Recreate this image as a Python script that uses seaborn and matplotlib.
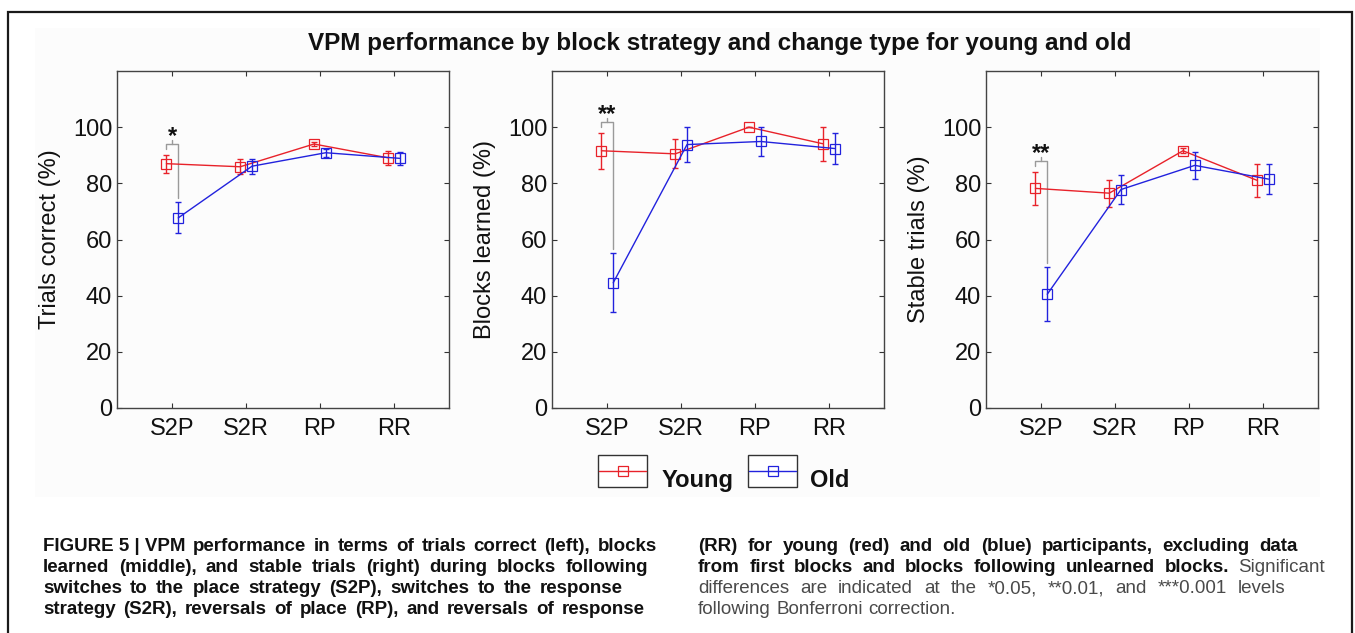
import pandas as pd
import seaborn as sns
import matplotlib.pyplot as plt
from matplotlib.patches import Rectangle
from matplotlib.lines import Line2D

# data (means and error bar half-widths, in %)
categories = ['S2P', 'S2R', 'RP', 'RR']
groups = ['Young', 'Old']

trials_young = [87.0, 85.9, 94.0, 89.1]
trials_young_err = [3.2, 2.7, 0.8, 2.5]
trials_old = [67.7, 86.1, 90.9, 88.9]
trials_old_err = [5.5, 2.7, 1.5, 2.4]

blocks_young = [91.6, 90.5, 100.0, 94.1]
blocks_young_err = [6.4, 5.2, 0.0, 6.0]
blocks_old = [44.6, 93.8, 94.9, 92.4]
blocks_old_err = [10.5, 6.2, 5.0, 5.6]

stable_young = [78.2, 76.5, 91.6, 81.1]
stable_young_err = [6.0, 4.8, 0.9, 5.8]
stable_old = [40.5, 77.8, 86.4, 81.5]
stable_old_err = [9.6, 5.0, 4.8, 5.3]

panel_ylabels = ['Trials correct (%)', 'Blocks learned (%)', 'Stable trials (%)']
sig_stars = ['*', '**', '**']

W, H = 1355, 633
RED = '#e8222a'
BLUE = '#2222dd'
colors = {'Young': RED, 'Old': BLUE}
dodge = {'Young': -0.08, 'Old': 0.08}

sns.set_style('ticks')
plt.rcParams['font.family'] = ['Liberation Sans', 'DejaVu Sans']
cap_font = ['Liberation Sans Narrow', 'Liberation Sans', 'DejaVu Sans']


def make_df(young, young_err, old, old_err):
    rows = []
    for g, vals, errs in [('Young', young, young_err), ('Old', old, old_err)]:
        for i, c in enumerate(categories):
            rows.append({'cat': c, 'pos': i + 1 + dodge[g], 'group': g,
                         'value': vals[i], 'err': errs[i]})
    return pd.DataFrame(rows)


panels = [
    make_df(trials_young, trials_young_err, trials_old, trials_old_err),
    make_df(blocks_young, blocks_young_err, blocks_old, blocks_old_err),
    make_df(stable_young, stable_young_err, stable_old, stable_old_err),
]

fig = plt.figure(figsize=(W / 100, H / 100), dpi=100, facecolor='white')


def px(x, y):
    return x / W, 1 - y / H


# faint panel behind the plots and the outer frame
fig.add_artist(Rectangle(px(35, 497), 1285 / W, 469 / H, transform=fig.transFigure,
                         facecolor='#fcfcfc', edgecolor='none', zorder=-5))
fig.add_artist(Rectangle(px(8, 660), 1344 / W, 648 / H, transform=fig.transFigure,
                         facecolor='none', edgecolor='#1a1a1a', linewidth=1.6, zorder=5))

axes_left = [117, 552, 986]
for k, df in enumerate(panels):
    l, b = px(axes_left[k], 408)
    ax = fig.add_axes([l, b, 332 / W, 337 / H])
    ax.set_facecolor('none')

    for g in groups:
        sub = df[df['group'] == g]
        sns.lineplot(data=sub, x='pos', y='value', ax=ax, color=colors[g], sort=False,
                     estimator=None, linewidth=1.0, marker='s', markersize=7.5,
                     markerfacecolor='none', markeredgecolor=colors[g],
                     markeredgewidth=0.9, legend=False, zorder=3)
        ax.errorbar(sub['pos'], sub['value'], yerr=sub['err'], fmt='none',
                    ecolor=colors[g], elinewidth=1.0, capsize=2, capthick=1.0, zorder=3)

    # significance bracket at S2P
    y_s = df[(df['group'] == 'Young') & (df['cat'] == 'S2P')].iloc[0]
    o_s = df[(df['group'] == 'Old') & (df['cat'] == 'S2P')].iloc[0]
    left_end = y_s['value'] + y_s['err'] + 2.0
    top = left_end + 1.8
    right_end = o_s['value'] + o_s['err'] + 1.5
    ax.plot([y_s['pos'], y_s['pos'], o_s['pos'], o_s['pos']],
            [left_end, top, top, right_end], color='#9a9a9a', linewidth=1.0, zorder=2)
    ax.plot([1, 1], [top, top + 1.3], color='#9a9a9a', linewidth=1.0, zorder=2)
    ax.text(1, top + 0.3, sig_stars[k], ha='center', va='baseline', fontsize=17,
            fontweight='bold', color='#111111')

    ax.set_xlim(0.25, 4.75)
    ax.set_ylim(0, 120)
    ax.set_xticks(range(1, 5))
    ax.set_xticklabels(categories)
    ax.set_yticks(range(0, 101, 20))
    ax.set_xlabel('')
    ax.set_ylabel(panel_ylabels[k], fontsize=17, color='#111111')
    ax.yaxis.set_label_coords(-0.17, 0.5)
    ax.tick_params(axis='both', direction='in', length=3.5, width=0.8, color='#333333',
                   labelsize=17, labelcolor='#111111', top=True, right=True)
    ax.tick_params(axis='x', pad=7)
    ax.tick_params(axis='y', pad=3.5)
    for sp in ax.spines.values():
        sp.set_visible(True)
        sp.set_color('#444444')
        sp.set_linewidth(1.0)

# title
fig.text(*px(720, 50), 'VPM performance by block strategy and change type for young and old',
         ha='center', va='baseline', fontsize=17.5, fontweight='bold', color='#111111')

# legend (each sample boxed)
for g, bx, tx in [('Young', 598, 662), ('Old', 748, 810)]:
    fig.add_artist(Rectangle(px(bx, 487), 49 / W, 32 / H, transform=fig.transFigure,
                             facecolor='white', edgecolor='#333333', linewidth=1.0))
    fig.add_artist(Line2D([(bx + 1) / W, (bx + 48) / W], [1 - 471 / H] * 2,
                          transform=fig.transFigure, color=colors[g], linewidth=1.0,
                          marker='', zorder=6))
    fig.add_artist(Line2D([(bx + 24.5) / W], [1 - 471 / H], transform=fig.transFigure,
                          color=colors[g], marker='s', markersize=7.5,
                          markerfacecolor='none', markeredgewidth=0.9, zorder=7))
    fig.text(*px(tx, 487), g, ha='left', va='baseline', fontsize=17,
             fontweight='bold', color='#111111')

# caption, two justified columns
left_lines = [
    ([('FIGURE\u00a05\u00a0|\u00a0VPM performance in terms of trials correct (left), blocks', True)], 657),
    ([('learned (middle), and stable trials (right) during blocks following', True)], 648),
    ([('switches to the place strategy (S2P), switches to the response', True)], 623),
    ([('strategy (S2R), reversals of place (RP), and reversals of response', True)], 645),
]
right_lines = [
    ([('(RR) for young (red) and old (blue) participants, excluding data', True)], 1298),
    ([('from first blocks and blocks following unlearned blocks.', True),
      ('Significant', False)], 1325),
    ([('differences are indicated at the *0.05, **0.01, and ***0.001 levels', False)], 1285),
    ([('following Bonferroni correction.', False)], None),
]
baselines = [551, 572, 593, 614]
cap_size = 13.5
renderer = fig.canvas.get_renderer()


def caption_line(segments, x0, x1, y):
    texts = []
    for seg, bold in segments:
        for word in seg.split(' '):
            t = fig.text(0, 1 - y / H, word, fontsize=cap_size, family=cap_font,
                         fontweight='bold' if bold else 'normal',
                         color='#111111' if bold else '#4a4a4a',
                         ha='left', va='baseline')
            texts.append(t)
    widths = [t.get_window_extent(renderer).width for t in texts]
    space = cap_size * 100 / 72 * 0.3
    gap = space
    if x1 is not None and len(texts) > 1:
        gap = max(space, (x1 - x0 - sum(widths)) / (len(texts) - 1))
    x = x0
    for t, w in zip(texts, widths):
        t.set_x(x / W)
        x += w + gap


for (segs, x1), yb in zip(left_lines, baselines):
    caption_line(segs, 43, x1, yb)
for (segs, x1), yb in zip(right_lines, baselines):
    caption_line(segs, 698, x1, yb)

fig.savefig('out.png', dpi=100, facecolor='white')
